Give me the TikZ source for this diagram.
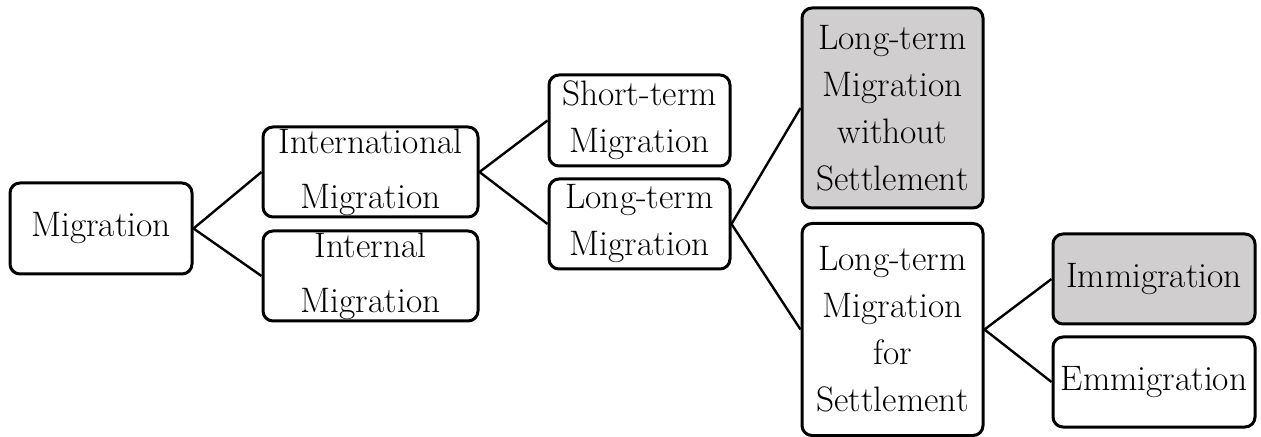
\documentclass[tikz,border=0pt]{standalone}
\begin{document}
\begin{tikzpicture}[x=0.5pt,y=-0.5pt,
  box/.style={draw=black, line width=1.5pt, rounded corners=5pt, inner sep=0pt,
    align=center, font=\fontsize{17.7}{23.5}\selectfont},
  widebox/.style={box, font=\fontsize{17.7}{27.5}\selectfont},
  shaded/.style={fill=boxgray},
  conn/.style={draw=black, line width=1.2pt}]
\definecolor{boxgray}{RGB}{208,206,207}
\useasboundingbox (0,0) rectangle (1261,437);
\fill[white] (0,0) rectangle (1261,437);

% tree levels, left to right
\node[box, minimum width=91pt, minimum height=45.5pt] (mig) at (101,228.5) {Migration};

\node[widebox, minimum width=107.5pt, minimum height=45pt] (intl) at (370.5,172) {International\\Migration};
\node[widebox, minimum width=107.5pt, minimum height=45pt] (intn) at (370.5,276) {Internal\\Migration};

\node[box, minimum width=90.5pt, minimum height=45.5pt] (short) at (639.5,120.5) {Short-term\\Migration};
\node[box, minimum width=90.5pt, minimum height=45pt] (long) at (639.5,224) {Long-term\\Migration};

\node[box, shaded, minimum width=90.5pt, minimum height=100pt] (wo) at (892.5,108) {Long-term\\Migration\\without\\Settlement};
\node[box, minimum width=90.5pt, minimum height=106pt] (settle) at (892.5,329.5) {Long-term\\Migration\\for\\Settlement};

\node[box, shaded, minimum width=101pt, minimum height=45pt] (imm) at (1154,279) {Immigration};
\node[box, minimum width=101pt, minimum height=45pt] (emm) at (1154,382) {Emmigration};

% branches
\draw[conn] (intl.west) -- (mig.east) -- (intn.west);
\draw[conn] (short.west) -- (intl.east) -- (long.west);
\draw[conn] (wo.west) -- (long.east) -- (settle.west);
\draw[conn] (imm.west) -- (settle.east) -- (emm.west);
\end{tikzpicture}
\end{document}
